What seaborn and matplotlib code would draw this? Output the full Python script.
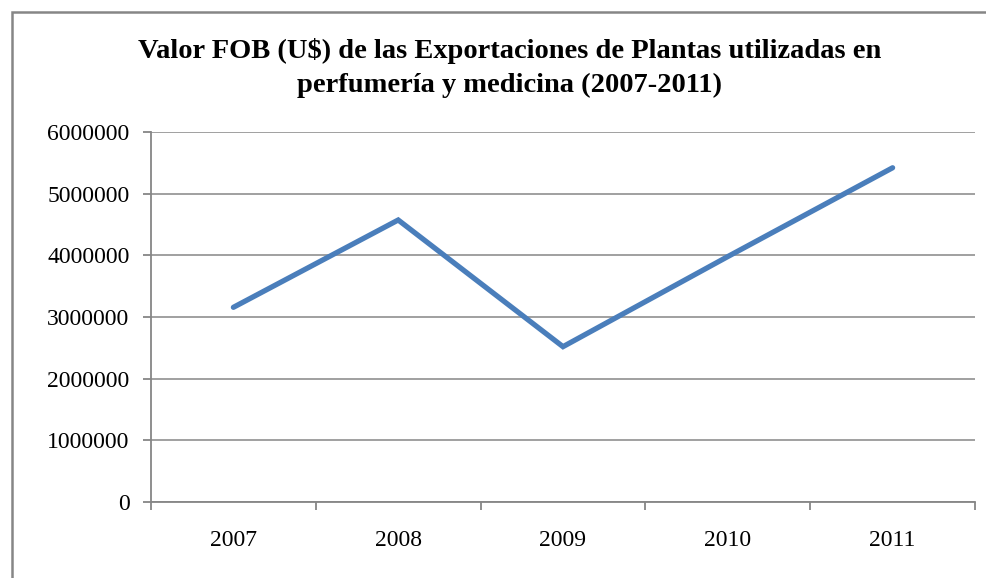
import numpy as np
import pandas as pd
import matplotlib
matplotlib.use("Agg")
import matplotlib.pyplot as plt
import seaborn as sns
from matplotlib.patches import Rectangle

years = ["2007", "2008", "2009", "2010", "2011"]
valores = [3157000, 4573000, 2519000, 3980000, 5420000]
yticks = [0, 1000000, 2000000, 3000000, 4000000, 5000000, 6000000]
title = "Valor FOB (U$) de las Exportaciones de Plantas utilizadas en\nperfumería y medicina (2007-2011)"

df = pd.DataFrame({"pos": np.arange(len(years)), "year": years, "valor": valores})

sns.set_theme(style="white")
plt.rcParams["font.family"] = ["Liberation Serif", "DejaVu Serif"]

GRAY = "#868686"
fig = plt.figure(figsize=(9.87, 5.78), dpi=100)
ax = fig.add_axes([151/987, 1-502/578, (975-151)/987, (502-132)/578])

sns.lineplot(data=df, x="pos", y="valor", ax=ax, color="#4A7EBB", linewidth=3.8,
             solid_capstyle="round", solid_joinstyle="miter", sort=False)

ax.set_xlim(-0.5, len(years)-0.5)
ax.set_ylim(0, 6000000)
ax.set_yticks(yticks)
ax.set_yticklabels([str(v) for v in yticks], fontsize=17)
ax.set_xticks(np.arange(len(years)))
ax.set_xticklabels(years, fontsize=17)
ax.set_xticks(np.arange(len(years)+1)-0.5, minor=True)
ax.tick_params(axis="x", which="both", bottom=True)
ax.tick_params(axis="y", which="both", left=True)
ax.tick_params(axis="x", which="major", length=0, pad=20, colors="black")
ax.tick_params(axis="x", which="minor", length=5.5, width=1.3, color=GRAY, direction="out")
ax.tick_params(axis="y", which="major", length=5.5, width=1.3, color=GRAY, pad=10,
               labelcolor="black", direction="out")
ax.set_xlabel("")
ax.set_ylabel("")
ax.grid(axis="y", color=GRAY, linewidth=1.1)
ax.grid(axis="x", visible=False)
ax.set_axisbelow(True)
for s in ["top", "right"]:
    ax.spines[s].set_visible(False)
for s in ["left", "bottom"]:
    ax.spines[s].set_color(GRAY)
    ax.spines[s].set_linewidth(1.3)

fig.text(510/987, 1-68/578, title, ha="center", va="center", fontsize=20.5,
         fontweight="bold", linespacing=1.5, color="black")

fig.patches.append(Rectangle((12.5/987, -0.1), 1.2, 1-12.5/578+0.1, transform=fig.transFigure,
                             fill=False, edgecolor=GRAY, linewidth=1.8))

fig.savefig("out.png", dpi=100)
